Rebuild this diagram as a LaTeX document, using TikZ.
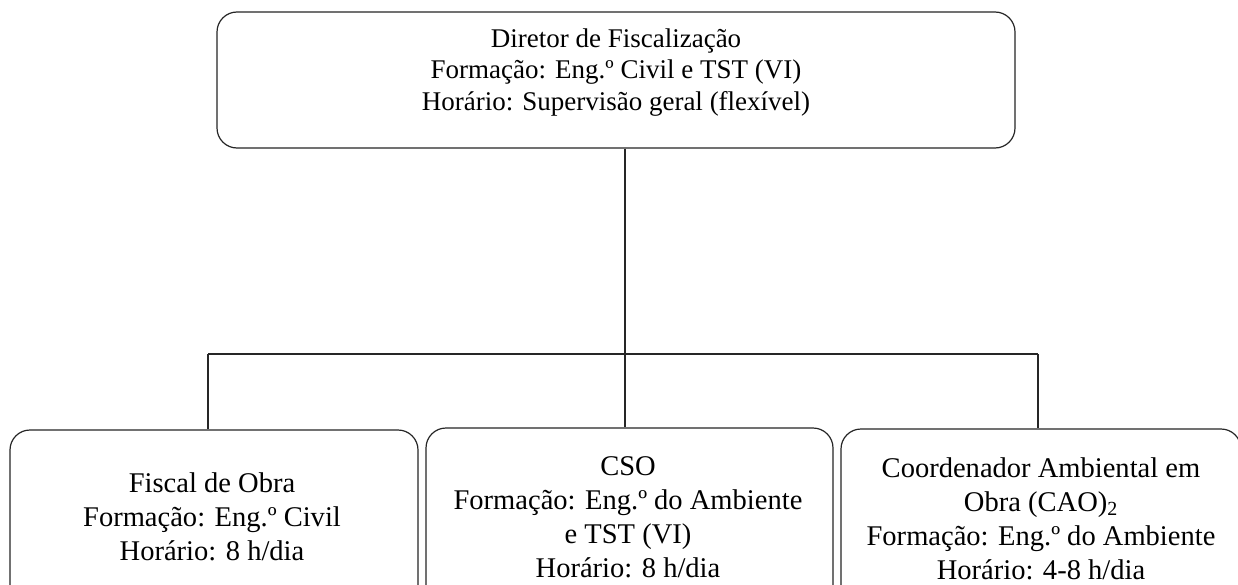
\documentclass[tikz,border=0pt]{standalone}
\usepackage{fontspec}
\setmainfont{Liberation Serif}
\begin{document}
\begin{tikzpicture}[x=0.75pt,y=-0.75pt,
  box/.style={draw=black!85, line width=0.9pt, rounded corners=15pt, inner sep=0pt},
  wire/.style={draw=black!85, line width=0.9pt},
  toptext/.style={align=center, font=\fontsize{20.25pt}{23.6pt}\selectfont, inner sep=0pt},
  subtext/.style={align=center, font=\fontsize{21.4pt}{25.5pt}\selectfont, inner sep=0pt}]
\useasboundingbox (0,0) rectangle (1238,585);
\fill[white] (0,0) rectangle (1238,585);
\clip (0,0) rectangle (1238,585);
% boxes
\node[box, minimum width=598.5pt, minimum height=102pt] (top) at (616,80) {};
\node[box, minimum width=306pt, minimum height=132pt] (b1) at (214,518) {};
\node[box, minimum width=305.25pt, minimum height=133.5pt] (b2) at (629.5,517) {};
\node[box, minimum width=300pt, minimum height=132.75pt] (b3) at (1041,517.5) {};
% texts
\node[toptext] (t0) at (616,72.5) {Diretor de Fiscalização\\Formação: Eng.º Civil e TST (VI)\\Horário: Supervisão geral (flexível)};
\node[subtext] (t1) at (212,517) {Fiscal de Obra\\Formação: Eng.º Civil\\Horário: 8 h/dia};
\node[subtext] (t2) at (628,517) {CSO\\Formação: Eng.º do Ambiente\\e TST (VI)\\Horário: 8 h/dia};
\node[subtext] (t3) at (1041,518.5) {Coordenador Ambiental em\\Obra (CAO)\textsubscript{2}\\Formação: Eng.º do Ambiente\\Horário: 4-8 h/dia};
% connectors
\coordinate (hub) at (625,354);
\coordinate (hl) at (208,354);
\coordinate (hr) at (1038,354);
\draw[wire] (hub |- top.south) -- (hub);
\draw[wire] (hl) -- (hr);
\draw[wire] (hl) -- (hl |- b1.north);
\draw[wire] (hub) -- (hub |- b2.north);
\draw[wire] (hr) -- (hr |- b3.north);
\end{tikzpicture}
\end{document}
